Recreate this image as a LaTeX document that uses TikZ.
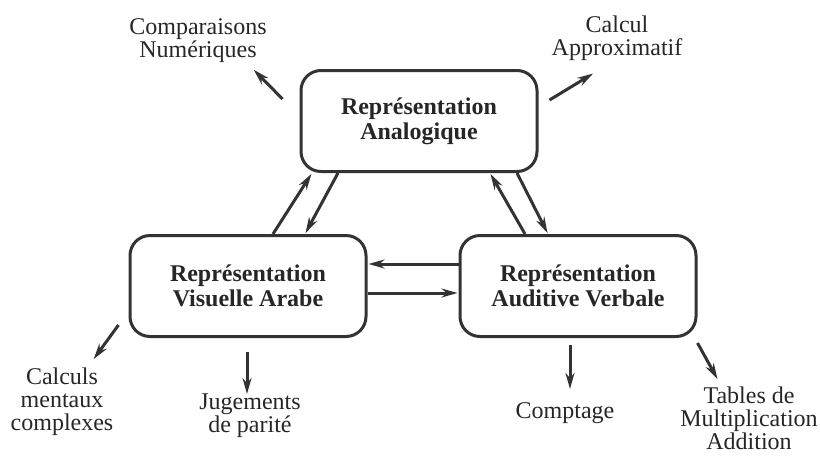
\documentclass[tikz,border=0pt]{standalone}
\usepackage{fontspec}
\setmainfont{Liberation Serif}
\usetikzlibrary{arrows.meta}

\begin{document}
\begin{tikzpicture}[x=1pt,y=-1pt,-,>={Stealth[length=16pt,width=9pt]},shorten >=1pt,line width=3pt,main node/.style={rectangle,rounded corners=20pt,draw=black!80,line width=3pt,minimum width=236pt,minimum height=101pt,align=center,text=black!85,font=\fontsize{24}{25}\selectfont\bfseries},leaf node/.style={align=center,inner sep=0pt,text=black!85,font=\fontsize{24}{23}\selectfont}]
                    \useasboundingbox (0,0) rectangle (820,456);

                    \node[main node] (1) at (419,121) {Représentation\\Analogique};
                    \node[main node] (2) at (248,286) {Représentation\\Visuelle Arabe};
                    \node[main node] (3) at (578,286) {Représentation\\Auditive Verbale};

                    \node[leaf node] (4) at (198,41) {Comparaisons\\Numériques};
                    \node[leaf node] (5) at (617,38) {Calcul\\Approximatif};
                    \node[leaf node] (6) at (62,402) {Calculs\\mentaux\\complexes};
                    \node[leaf node] (7) at (250,416) {Jugements\\de parité};
                    \node[leaf node] (8) at (565,413) {Comptage};
                    \node[leaf node] (9) at (749,418) {Tables de\\Multiplication\\Addition};

                    \path[->,black!80]
                            ([xshift=25pt]2.north) edge ([xshift=-107pt]1.south)
                            ([xshift=-81pt]1.south) edge ([xshift=57pt]2.north)
                            ([xshift=-53pt]3.north) edge ([xshift=71pt]1.south)
                            ([xshift=98pt]1.south) edge ([xshift=-30pt]3.north)

                            ([yshift=22pt]3.west) edge ([yshift=22pt]2.east)
                            ([yshift=-7pt]2.east) edge ([yshift=-7pt]3.west)

                            ([shift={(-17,30)}]1.north west) edge ([shift={(55,28)}]4.center)
                            ([shift={(11,-21)}]1.east) edge ([shift={(-23,35)}]5.center)
                            ([shift={(-10,-13)}]2.south west) edge ([shift={(31,-42)}]6.center)
                            ([shift={(-1,14)}]2.south) edge ([shift={(-3,-21)}]7.center)
                            ([shift={(-8,7)}]3.south) edge ([shift={(5,-23)}]8.center)
                            ([shift={(0,5)}]3.south east) edge ([shift={(-31,-38)}]9.center)
                        ;
                \end{tikzpicture}
\end{document}
